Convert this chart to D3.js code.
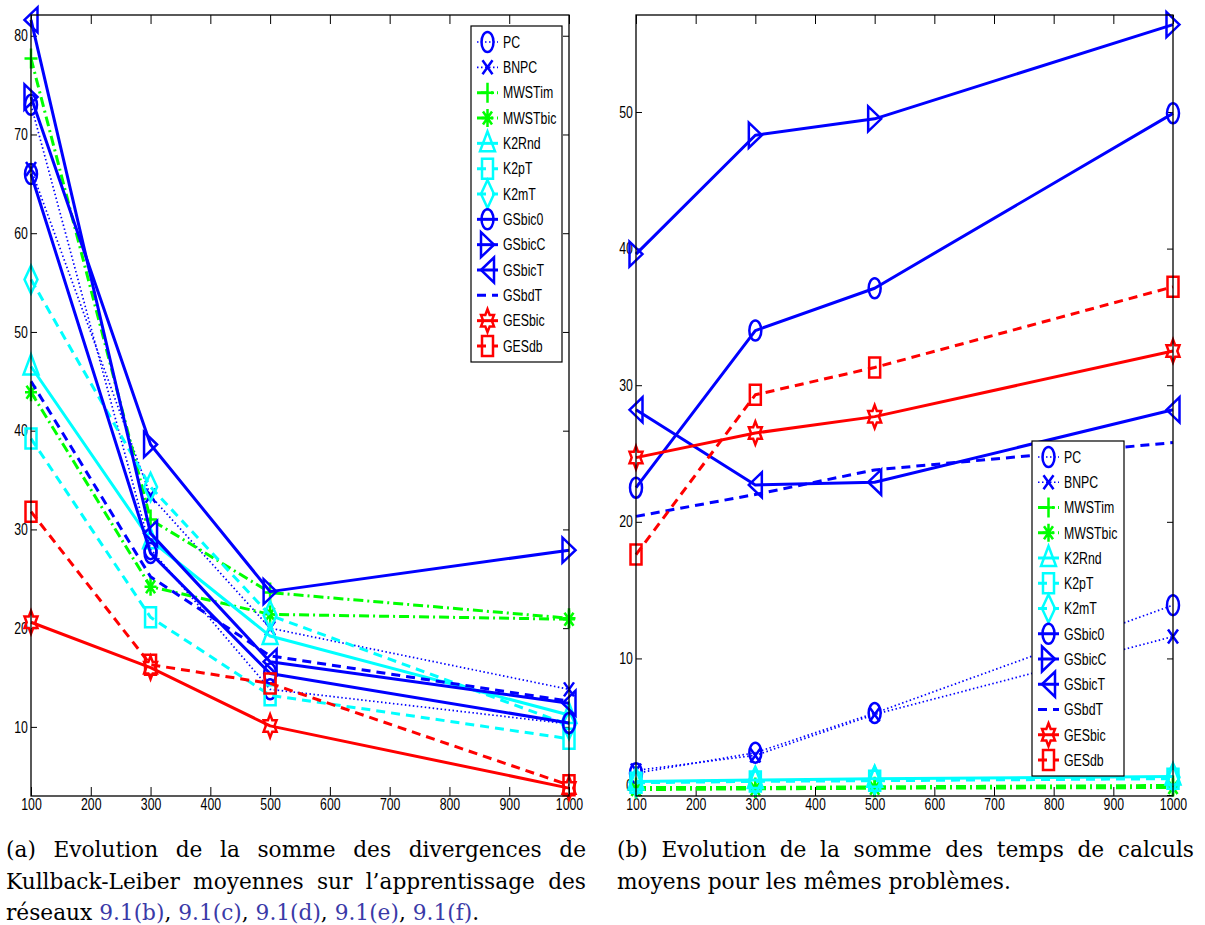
<!DOCTYPE html>
<html>
<head>
<meta charset="utf-8">
<script src="https://cdn.jsdelivr.net/npm/d3@7"></script>
<style>
  body { margin: 0; background: #fff; }
  svg { display: block; }
</style>
</head>
<body>
<svg id="fig" width="1205" height="925"></svg>
<script>
var sizes = [100, 300, 500, 1000];
var xTicks = [100, 200, 300, 400, 500, 600, 700, 800, 900, 1000];
var klTicks = [10, 20, 30, 40, 50, 60, 70, 80];
var timeTicks = [0, 10, 20, 30, 40, 50];
var methodNames = ["PC", "BNPC", "MWSTim", "MWSTbic", "K2Rnd", "K2pT", "K2mT",
  "GSbic0", "GSbicC", "GSbicT", "GSbdT", "GESbic", "GESdb"];

// (a) somme des divergences KL moyennes
var klPC      = [73.0, 28.0, 13.8, 10.3];
var klBNPC    = [66.5, 33.4, 20.0, 13.8];
var klMWSTim  = [77.7, 31.0, 23.6, 21.0];
var klMWSTbic = [43.9, 24.2, 21.4, 20.9];
var klK2Rnd   = [46.5, 28.9, 19.2, 11.2];
var klK2pT    = [39.2, 21.1, 13.2, 8.8];
var klK2mT    = [55.3, 34.3, 21.3, 10.2];
var klGSbic0  = [66.0, 27.6, 15.4, 10.4];
var klGSbicC  = [73.8, 38.6, 23.7, 27.9];
var klGSbicT  = [81.6, 29.6, 16.6, 12.4];
var klGSbdT   = [45.0, 25.2, 17.2, 12.6];
var klGESbic  = [20.6, 16.0, 10.1, 3.8];
var klGESdb   = [31.8, 16.3, 14.4, 4.1];

// (b) somme des temps de calcul moyens
var timePC      = [1.6, 3.1, 6.0, 13.9];
var timeBNPC    = [1.8, 2.9, 5.9, 11.6];
var timeMWSTim  = [0.55, 0.55, 0.6, 0.7];
var timeMWSTbic = [0.4, 0.45, 0.5, 0.55];
var timeK2Rnd   = [1.0, 1.1, 1.2, 1.35];
var timeK2pT    = [0.9, 1.0, 1.05, 1.2];
var timeK2mT    = [0.95, 1.05, 1.1, 1.3];
var timeGSbic0  = [22.5, 34.0, 37.1, 49.9];
var timeGSbicC  = [39.6, 48.3, 49.5, 56.4];
var timeGSbicT  = [28.2, 22.7, 22.9, 28.2];
var timeGSbdT   = [20.4, 22.0, 23.8, 25.8];
var timeGESbic  = [24.7, 26.5, 27.7, 32.5];
var timeGESdb   = [17.6, 29.3, 31.3, 37.2];

var klValues = [klPC, klBNPC, klMWSTim, klMWSTbic, klK2Rnd, klK2pT, klK2mT,
  klGSbic0, klGSbicC, klGSbicT, klGSbdT, klGESbic, klGESdb];
var timeValues = [timePC, timeBNPC, timeMWSTim, timeMWSTbic, timeK2Rnd, timeK2pT,
  timeK2mT, timeGSbic0, timeGSbicC, timeGSbicT, timeGSbdT, timeGESbic, timeGESdb];

var BLUE = "#0000ff", GREEN = "#00ff00", CYAN = "#00ffff", RED = "#ff0000";
var styles = {
  PC:      {color: BLUE,  line: "dot",     marker: "o"},
  BNPC:    {color: BLUE,  line: "dot",     marker: "x"},
  MWSTim:  {color: GREEN, line: "dashdot", marker: "+"},
  MWSTbic: {color: GREEN, line: "dashdot", marker: "*"},
  K2Rnd:   {color: CYAN,  line: "solid",   marker: "^"},
  K2pT:    {color: CYAN,  line: "dash",    marker: "s"},
  K2mT:    {color: CYAN,  line: "dash",    marker: "d"},
  GSbic0:  {color: BLUE,  line: "solid",   marker: "o"},
  GSbicC:  {color: BLUE,  line: "solid",   marker: ">"},
  GSbicT:  {color: BLUE,  line: "solid",   marker: "<"},
  GSbdT:   {color: BLUE,  line: "dash",    marker: null},
  GESbic:  {color: RED,   line: "solid",   marker: "h"},
  GESdb:   {color: RED,   line: "dash",    marker: "s"}
};
var lineDash = {solid: null, dash: "9,6", dashdot: "10,4,2,4", dot: "1.5,2.5"};
var lineWidth = {solid: 3, dash: 3, dashdot: 3, dot: 1.7};

var TEXT_SQUEEZE = 0.77;   // the original figure is horizontally compressed

var markerPath = function(type) {
  var pts = function(arr) {
    return "M" + arr.map(function(p) { return p[0] + "," + p[1]; }).join("L") + "Z";
  };
  switch (type) {
    case "o":
      return "M-6,0A6,10 0 1,0 6,0A6,10 0 1,0 -6,0Z";
    case "x":
      return "M-5,-7L5,7M-5,7L5,-7";
    case "+":
      return "M-6.5,0L6.5,0M0,-10L0,10";
    case "*":
      return "M-6,0L6,0M0,-9L0,9M-4.5,-6.5L4.5,6.5M-4.5,6.5L4.5,-6.5";
    case "^":
      return pts([[0, -12], [7.5, 8], [-7.5, 8]]);
    case "<":
      return pts([[-6.5, 0], [6.5, -12.5], [6.5, 12.5]]);
    case ">":
      return pts([[6.5, 0], [-6.5, -12.5], [-6.5, 12.5]]);
    case "s":
      return pts([[-5.5, -10], [5.5, -10], [5.5, 10], [-5.5, 10]]);
    case "d":
      return pts([[0, -14], [6.5, 0], [0, 14], [-6.5, 0]]);
    case "h":
      var star = [];
      for (var i = 0; i < 12; i++) {
        var a = -Math.PI / 2 + i * Math.PI / 6;
        var r = i % 2 === 0 ? 1 : 0.577;
        star.push([7.5 * r * Math.cos(a), 11.5 * r * Math.sin(a)]);
      }
      return pts(star);
  }
  return "";
};

var svg = d3.select("#fig");
svg.append("rect").attr("width", 1205).attr("height", 925).attr("fill", "#fff");

var drawPanel = function(panel) {
  var g = svg.append("g");
  var x = d3.scaleLinear().domain([100, 1000]).range([panel.left, panel.right]);
  var y = d3.scaleLinear().domain(panel.yDomain).range([panel.bottom, panel.top]);

  // MATLAB style box with inward ticks on all four sides
  g.append("g")
    .attr("transform", "translate(0," + panel.bottom + ")")
    .call(d3.axisBottom(x).tickValues(xTicks).tickSizeInner(-9).tickSizeOuter(0)
      .tickPadding(3).tickFormat(d3.format("d")));
  g.append("g")
    .attr("transform", "translate(0," + panel.top + ")")
    .call(d3.axisTop(x).tickValues(xTicks).tickSizeInner(-9).tickSizeOuter(0)
      .tickFormat(""));
  var yAxis = g.append("g")
    .attr("transform", "translate(" + panel.left + ",0)")
    .call(d3.axisLeft(y).tickValues(panel.yTicks).tickSizeInner(-6).tickSizeOuter(0)
      .tickPadding(4).tickFormat(d3.format("d")));
  g.append("g")
    .attr("transform", "translate(" + panel.right + ",0)")
    .call(d3.axisRight(y).tickValues(panel.yTicks).tickSizeInner(-6).tickSizeOuter(0)
      .tickFormat(""));
  g.selectAll(".domain").remove();
  g.selectAll(".tick line").attr("stroke", "#000").attr("stroke-width", 1);
  g.selectAll(".tick text")
    .attr("font-family", "'Liberation Sans', Arial, sans-serif")
    .attr("font-size", 16)
    .attr("fill", "#000")
    .attr("transform", "scale(" + TEXT_SQUEEZE + ",1)");
  // the bottom y label sits on the corner, lift it clear of the x labels
  yAxis.selectAll(".tick text")
    .filter(function(d) { return y(d) > panel.bottom - 4; })
    .attr("dy", "-0.3em");

  var line = d3.line()
    .x(function(d, i) { return x(sizes[i]); })
    .y(function(d) { return y(d); });

  var plot = g.append("g");
  methodNames.forEach(function(name, k) {
    var st = styles[name];
    var values = panel.values[k];
    plot.append("path")
      .attr("d", line(values))
      .attr("fill", "none")
      .attr("stroke", st.color)
      .attr("stroke-width", lineWidth[st.line])
      .attr("stroke-dasharray", lineDash[st.line])
      .attr("stroke-linejoin", "round");
    if (st.marker) {
      plot.selectAll(null)
        .data(values)
        .enter()
        .append("path")
        .attr("transform", function(d, i) {
          return "translate(" + x(sizes[i]) + "," + y(d) + ")";
        })
        .attr("d", markerPath(st.marker))
        .attr("fill", "none")
        .attr("stroke", st.color)
        .attr("stroke-width", 2.5);
    }
  });

  g.append("rect")
    .attr("x", panel.left).attr("y", panel.top)
    .attr("width", panel.right - panel.left)
    .attr("height", panel.bottom - panel.top)
    .attr("fill", "none").attr("stroke", "#000").attr("stroke-width", 1.3);

  // legend
  var lg = panel.legend;
  var legend = g.append("g");
  legend.append("rect")
    .attr("x", lg.x).attr("y", lg.y).attr("width", lg.w).attr("height", lg.h)
    .attr("fill", "#fff").attr("stroke", "#000").attr("stroke-width", 1.2);
  var rowH = (lg.h - 32) / (methodNames.length - 1);
  methodNames.forEach(function(name, k) {
    var st = styles[name];
    var cy = lg.y + 16 + k * rowH;
    legend.append("line")
      .attr("x1", lg.x + 6).attr("x2", lg.x + 27)
      .attr("y1", cy).attr("y2", cy)
      .attr("stroke", st.color)
      .attr("stroke-width", lineWidth[st.line])
      .attr("stroke-dasharray", lineDash[st.line]);
    if (st.marker) {
      legend.append("path")
        .attr("transform", "translate(" + (lg.x + 16.5) + "," + cy + ")")
        .attr("d", markerPath(st.marker))
        .attr("fill", "none")
        .attr("stroke", st.color)
        .attr("stroke-width", 2.5);
    }
    legend.append("text")
      .attr("transform", "translate(" + (lg.x + 32) + "," + cy + ") scale(" + TEXT_SQUEEZE + ",1)")
      .attr("dy", "0.36em")
      .attr("font-family", "'Liberation Sans', Arial, sans-serif")
      .attr("font-size", 16)
      .text(name);
  });
};

drawPanel({
  left: 31, right: 569, top: 15, bottom: 796,
  yDomain: [3.0, 82.1], yTicks: klTicks, values: klValues,
  legend: {x: 471, y: 26, w: 91, h: 336}
});
drawPanel({
  left: 636, right: 1173, top: 15, bottom: 796,
  yDomain: [-0.07, 57.1], yTicks: timeTicks, values: timeValues,
  legend: {x: 1032, y: 441, w: 92, h: 335}
});

// captions, justified like the LaTeX source
var LINK = "#3a3aa8";
var captionLines = [
  {words: ["(a)", "Evolution", "de", "la", "somme", "des", "divergences", "de"], x0: 6, x1: 586, y: 857, justify: true},
  {words: ["Kullback-Leiber", "moyennes", "sur", "l\u2019apprentissage", "des"], x0: 6, x1: 586, y: 889, justify: true},
  {words: ["r\u00e9seaux", [["9.1(b)", LINK], [",", "#000"]], [["9.1(c)", LINK], [",", "#000"]],
    [["9.1(d)", LINK], [",", "#000"]], [["9.1(e)", LINK], [",", "#000"]], [["9.1(f)", LINK], [".", "#000"]]],
    x0: 6, x1: null, y: 920, justify: false},
  {words: ["(b)", "Evolution", "de", "la", "somme", "des", "temps", "de", "calculs"], x0: 617, x1: 1194, y: 857, justify: true},
  {words: ["moyens", "pour", "les", "m\u00eames", "probl\u00e8mes."], x0: 617, x1: null, y: 889, justify: false}
];

var cap = svg.append("g")
  .attr("font-family", "'DejaVu Serif', 'Liberation Serif', serif")
  .attr("font-size", 23)
  .attr("fill", "#000");

// measure the squeeze from the last line of (b), which ends near x = 1011
var probe = cap.append("text").text("moyens pour les m\u00eames probl\u00e8mes.");
var capSqueeze = 394 / probe.node().getComputedTextLength();
probe.remove();
var space = (function() {
  var t = cap.append("text").text("a a");
  var t2 = cap.append("text").text("aa");
  var w = t.node().getComputedTextLength() - t2.node().getComputedTextLength();
  t.remove(); t2.remove();
  return w;
})();

captionLines.forEach(function(ln) {
  var lg = cap.append("g")
    .attr("transform", "translate(" + ln.x0 + "," + ln.y + ") scale(" + capSqueeze + ",1)");
  var nodes = ln.words.map(function(w) {
    var t = lg.append("text");
    if (typeof w === "string") {
      t.text(w);
    } else {
      w.forEach(function(part) {
        t.append("tspan").attr("fill", part[1]).text(part[0]);
      });
    }
    return t;
  });
  var widths = nodes.map(function(t) { return t.node().getComputedTextLength(); });
  var total = d3.sum(widths);
  var gap = space;
  if (ln.justify) {
    gap = ((ln.x1 - ln.x0) / capSqueeze - total) / (nodes.length - 1);
  }
  var pos = 0;
  nodes.forEach(function(t, i) {
    t.attr("x", pos);
    pos += widths[i] + gap;
  });
});
</script>
</body>
</html>
